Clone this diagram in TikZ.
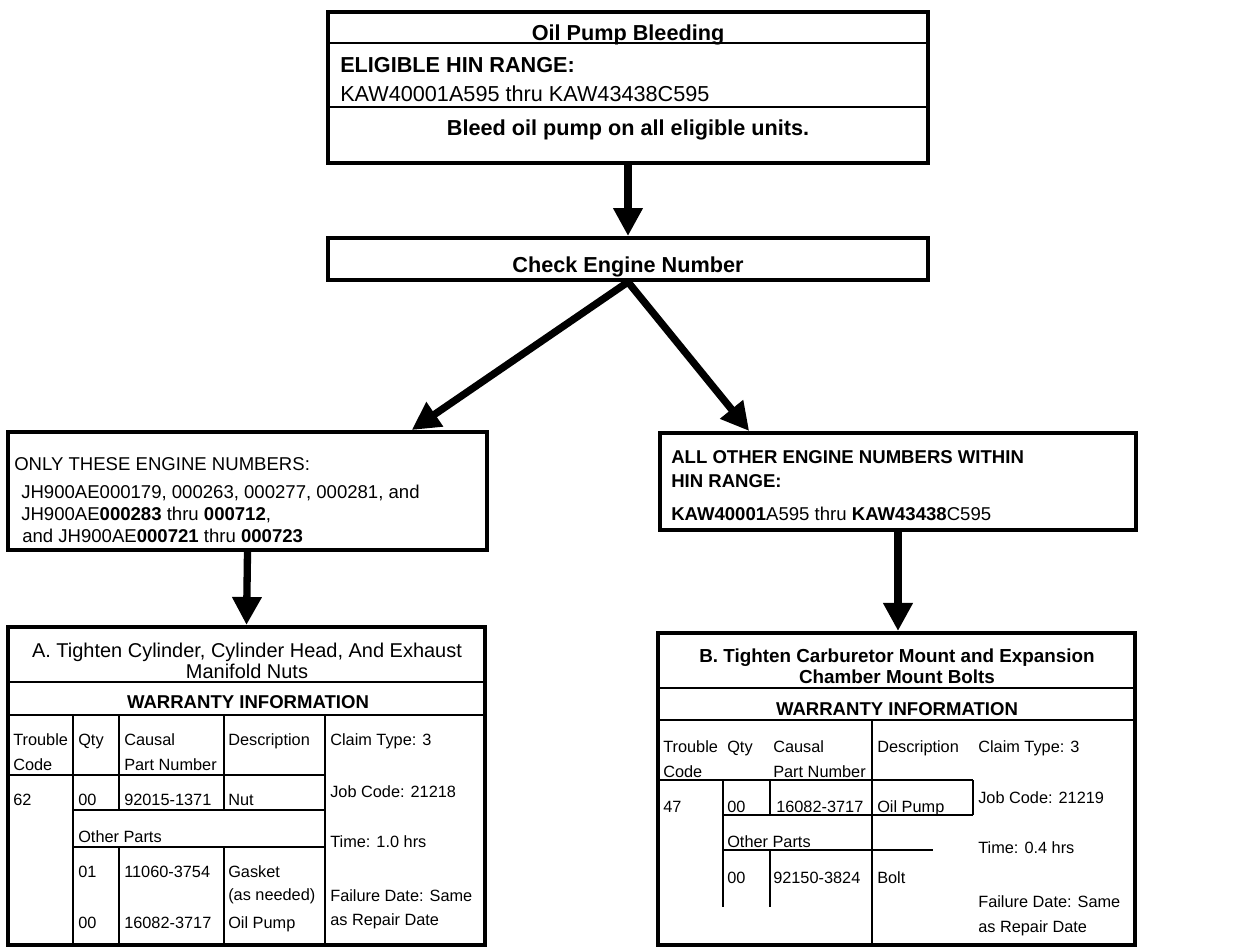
\documentclass[tikz,border=0pt]{standalone}
\usepackage{fontspec}
\setmainfont{Liberation Sans}
\usetikzlibrary{calc,arrows.meta}
\tikzset{
box/.style={draw=black,line width=2.8pt,inner sep=0pt},
rule/.style={line width=1.7pt},
thin/.style={line width=1.1pt},
flow/.style={-{Triangle[length=7mm,width=7mm]},line width=5.2pt},
topb/.style={font=\fontsize{15.4}{18}\selectfont\bfseries,inner sep=0pt,anchor=base},
topl/.style={font=\fontsize{15.4}{18}\selectfont,inner sep=0pt,anchor=base west},
toplb/.style={font=\fontsize{15.4}{18}\selectfont\bfseries,inner sep=0pt,anchor=base west},
boxr/.style={font=\fontsize{13.2}{15.6}\selectfont,inner sep=0pt,anchor=base west},
boxb/.style={font=\fontsize{13.2}{15.6}\selectfont\bfseries,inner sep=0pt,anchor=base west},
ttla/.style={font=\fontsize{14.2}{15}\selectfont,inner sep=0pt,anchor=base},
ttlb/.style={font=\fontsize{13.4}{15}\selectfont\bfseries,inner sep=0pt,anchor=base},
warr/.style={font=\fontsize{13.2}{15}\selectfont\bfseries,inner sep=0pt,anchor=base},
cell/.style={font=\fontsize{11.6}{14}\selectfont,inner sep=0pt,anchor=base west}
}
\begin{document}
\begin{tikzpicture}[x=0.025cm,y=-0.025cm]
\path[use as bounding box,fill=white] (0,0) rectangle (1238,947);

\node[box,minimum width=15cm,minimum height=3.775cm] (pump) at (628,87.5) {};
\draw[rule] (328,43) -- (928,43) (328,107) -- (928,107);
\node[topb] (p1) at (628,40) {Oil Pump Bleeding};
\node[toplb] (p2) at (340,72) {ELIGIBLE HIN RANGE:};
\node[topl] (p3) at (340,101) {KAW40001A595 thru KAW43438C595};
\node[topb] (p4) at (628,135) {Bleed oil pump on all eligible units.};

\node[box,minimum width=15cm,minimum height=1.05cm] (check) at (628,259) {};
\node[topb] (c1) at (628,272) {Check Engine Number};

\node[box,minimum width=11.975cm,minimum height=2.95cm] (only) at (247.5,491) {};
\node[boxr] (o1) at (14,470) {ONLY THESE ENGINE NUMBERS:};
\node[boxr] (o2) at (21,498) {JH900AE000179, 000263, 000277, 000281, and};
\node[boxr] (o3) at (21,520) {JH900AE\textbf{000283} thru \textbf{000712},};
\node[boxr] (o4) at (22,542) {and JH900AE\textbf{000721} thru \textbf{000723}};

\node[box,minimum width=11.9cm,minimum height=2.425cm] (other) at (898,481.5) {};
\node[boxb] (r1) at (671,463) {ALL OTHER ENGINE NUMBERS WITHIN};
\node[boxb] (r2) at (671,487) {HIN RANGE:};
\node[boxr] (r3) at (671,520) {\textbf{KAW40001}A595 thru \textbf{KAW43438}C595};

\draw[flow] (pump.south) -- (check.north);
\draw[flow] (check.south) -- ($(only.north west)!0.84!(only.north east)$);
\draw[flow] (check.south) -- ($(other.north west)!0.19!(other.north east)$);

\node[box,minimum width=11.925cm,minimum height=7.95cm] (tabA) at (246.5,786) {};
\draw[flow] (only.south) -- (tabA.north);
\draw[rule] (8,682) -- (485,682) (8,715) -- (485,715);
\draw[thin] (8,775) -- (325,775) (73,810) -- (325,810) (73,847) -- (325,847)
  (73,715) -- (73,945) (325,715) -- (325,945)
  (119,715) -- (119,810) (119,847) -- (119,945)
  (224,715) -- (224,810) (224,847) -- (224,945);
\node[ttla] (ta1) at (247,657) {A. Tighten Cylinder, Cylinder Head, And Exhaust};
\node[ttla] (ta2) at (247,678) {Manifold Nuts};
\node[warr] (wa) at (248,708) {WARRANTY INFORMATION};
\node[cell] (a1) at (13,745) {Trouble};
\node[cell] (a2) at (13,770) {Code};
\node[cell] (a3) at (78,745) {Qty};
\node[cell] (a4) at (124,745) {Causal};
\node[cell] (a5) at (124,770) {Part Number};
\node[cell] (a6) at (228,745) {Description};
\node[cell] (a7) at (330,745) {Claim Type: 3};
\node[cell] (a8) at (13,805) {62};
\node[cell] (a9) at (78,805) {00};
\node[cell] (a10) at (124,805) {92015-1371};
\node[cell] (a11) at (228,805) {Nut};
\node[cell] (a12) at (330,797) {Job Code: 21218};
\node[cell] (a13) at (78,842) {Other Parts};
\node[cell] (a14) at (330,847) {Time: 1.0 hrs};
\node[cell] (a15) at (78,877) {01};
\node[cell] (a16) at (124,877) {11060-3754};
\node[cell] (a17) at (228,877) {Gasket};
\node[cell] (a18) at (228,900) {(as needed)};
\node[cell] (a19) at (330,901) {Failure Date: Same};
\node[cell] (a20) at (330,925) {as Repair Date};
\node[cell] (a21) at (78,928) {00};
\node[cell] (a22) at (124,928) {16082-3717};
\node[cell] (a23) at (228,928) {Oil Pump};

\node[box,minimum width=11.925cm,minimum height=7.8cm] (tabB) at (896.5,789) {};
\draw[flow] (other.south) -- (other.south |- tabB.north);
\draw[rule] (658,688) -- (1135,688) (658,720) -- (1135,720);
\draw[thin] (658,780) -- (973,780) (723,815) -- (973,815) (723,850) -- (933,850)
  (872,720) -- (872,945) (723,780) -- (723,907)
  (770,780) -- (770,815) (770,850) -- (770,907) (973,780) -- (973,815);
\node[ttlb] (tb1) at (897,662) {B. Tighten Carburetor Mount and Expansion};
\node[ttlb] (tb2) at (897,683) {Chamber Mount Bolts};
\node[warr] (wb) at (897,715) {WARRANTY INFORMATION};
\node[cell] (b1) at (663,752) {Trouble};
\node[cell] (b2) at (663,777) {Code};
\node[cell] (b3) at (727,752) {Qty};
\node[cell] (b4) at (773,752) {Causal};
\node[cell] (b5) at (773,777) {Part Number};
\node[cell] (b6) at (877,752) {Description};
\node[cell] (b7) at (978,752) {Claim Type: 3};
\node[cell] (b8) at (663,812) {47};
\node[cell] (b9) at (727,812) {00};
\node[cell] (b10) at (776,812) {16082-3717};
\node[cell] (b11) at (877,812) {Oil Pump};
\node[cell] (b12) at (978,803) {Job Code: 21219};
\node[cell] (b13) at (727,847) {Other Parts};
\node[cell] (b14) at (978,853) {Time: 0.4 hrs};
\node[cell] (b15) at (727,883) {00};
\node[cell] (b16) at (773,883) {92150-3824};
\node[cell] (b17) at (877,883) {Bolt};
\node[cell] (b18) at (978,907) {Failure Date: Same};
\node[cell] (b19) at (978,932) {as Repair Date};
\end{tikzpicture}
\end{document}
